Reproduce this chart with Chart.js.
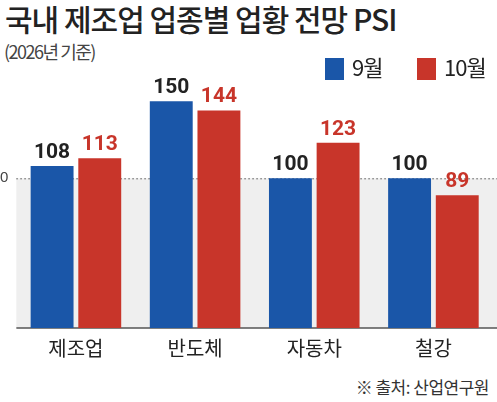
<!DOCTYPE html><html><head><meta charset="utf-8">
<script src="https://cdn.jsdelivr.net/npm/chart.js@4"></script>
<style>body{margin:0;width:497px;height:402px;background:#fff;font-family:Roboto,"Noto Sans CJK KR",sans-serif;position:relative;overflow:hidden}
.t{position:absolute;white-space:nowrap}
</style></head><body>
<div class="t" style="left:5px;top:-4px;font-size:30px;font-weight:500;color:#222;font-family:'Noto Sans CJK KR';letter-spacing:-1px">국내 제조업 업종별 업황 전망 PSI</div>
<div class="t" style="left:4px;top:38px;font-size:18px;color:#444;font-family:'Noto Sans CJK KR';letter-spacing:-1.5px">(2026년 기준)</div>
<div class="t" style="right:8px;top:374px;font-size:17px;color:#333;font-family:'Noto Sans CJK KR';letter-spacing:-0.5px">※ 출처: 산업연구원</div>
<canvas id="c" width="497" height="402" style="position:absolute;left:0;top:0"></canvas>
<script>
const categories=['제조업','반도체','자동차','철강'];
const sep=[108,150,100,100];
const oct=[113,144,123,89];
const seriesNames=['9월','10월'];
const bg={id:'bg',beforeDatasetsDraw(c){const {ctx,chartArea:a,scales:{y}}=c;const yy=y.getPixelForValue(100);
ctx.save();ctx.fillStyle='#efefef';ctx.fillRect(a.left,yy,a.right-a.left+10,a.bottom-yy);
ctx.strokeStyle='#555';ctx.setLineDash([1.5,2.5]);ctx.lineWidth=1;ctx.beginPath();ctx.moveTo(a.left,yy+0.5);ctx.lineTo(497,yy+0.5);ctx.stroke();
ctx.setLineDash([]);ctx.strokeStyle='#555';ctx.lineWidth=1.5;ctx.beginPath();ctx.moveTo(a.left,a.bottom);ctx.lineTo(497,a.bottom);ctx.stroke();ctx.restore();}};
const lbl={id:'lbl',afterDatasetsDraw(c){const {ctx}=c;ctx.save();ctx.font='bold 21px Roboto';ctx.textAlign='center';ctx.textBaseline='bottom';
c.data.datasets.forEach((d,i)=>{c.getDatasetMeta(i).data.forEach((b,j)=>{ctx.fillStyle=i==0?'#222':'#c8352a';ctx.fillText(d.data[j],b.x,b.y-3);});});ctx.restore();}};
new Chart(document.getElementById('c'),{type:'bar',data:{labels:categories,datasets:[
{label:seriesNames[0],data:sep,backgroundColor:'#1a56a8'},{label:seriesNames[1],data:oct,backgroundColor:'#c8352a'}]},
options:{responsive:false,animation:false,layout:{padding:{top:78,left:0,right:4,bottom:42}},
plugins:{legend:{display:false},tooltip:{enabled:false}},
scales:{x:{grid:{display:false},border:{display:false},categoryPercentage:0.66,barPercentage:0.8,ticks:{color:'#222',font:{size:20,family:'Noto Sans CJK KR'},padding:0}},
y:{min:3,max:165,grid:{display:false},border:{display:false},afterBuildTicks(ax){ax.ticks=[{value:100}]},ticks:{callback:()=> '0',color:'#444',font:{size:15},padding:0}}}},
plugins:[bg,lbl]});
</script>
<div class="t" style="left:325px;top:58px;width:19px;height:22px;background:#1a56a8"></div>
<div class="t" style="left:352px;top:50px;font-size:22px;color:#222;font-family:'Noto Sans CJK KR';letter-spacing:-1px">9월</div>
<div class="t" style="left:417px;top:58px;width:19px;height:22px;background:#c8352a"></div>
<div class="t" style="left:444px;top:50px;font-size:22px;color:#222;font-family:'Noto Sans CJK KR';letter-spacing:-1px">10월</div>
</body></html>
